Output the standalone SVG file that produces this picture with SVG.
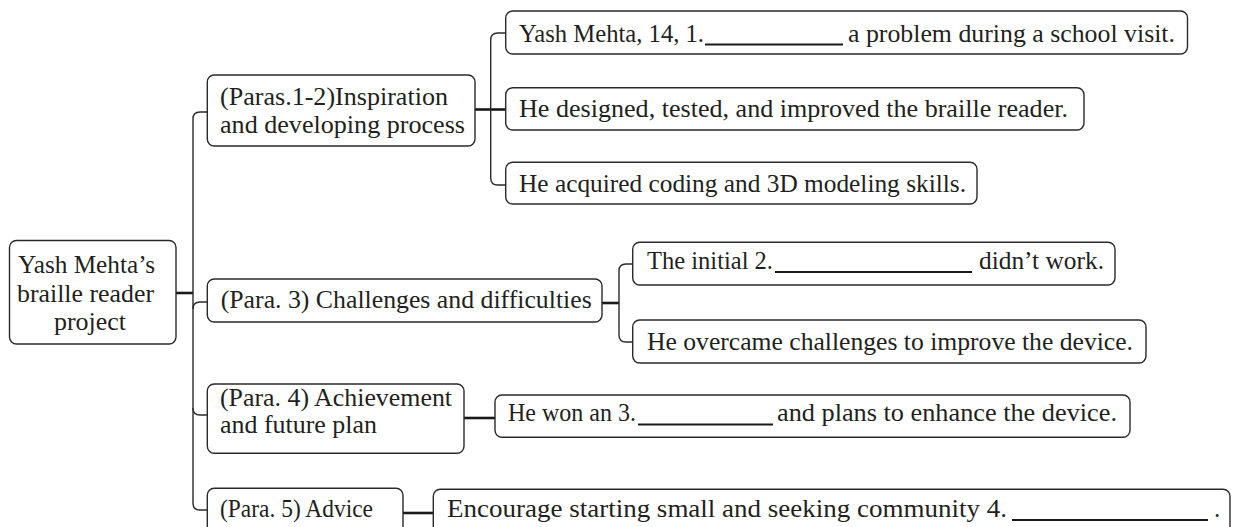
<svg xmlns="http://www.w3.org/2000/svg" width="1233" height="527" viewBox="0 0 1233 527">
<style>
.box{fill:#fff;stroke:#2a2a2a;stroke-width:1.4}
.t{font-family:"Liberation Serif","Times New Roman",serif;font-size:25px;fill:#231f20}
.thin{fill:none;stroke:#2a2a2a;stroke-width:1.4}
.thick{fill:none;stroke:#1a1a1a;stroke-width:2.6}
.ul{stroke:#1a1a1a;stroke-width:2}
</style>
<rect width="1233" height="527" fill="#fff"/>
<g id="connectors">
<path class="thick" d="M176,293H193"/>
<path class="thin" d="M207,112H200Q193,112 193,119V503Q193,510 200,510H207"/>
<path class="thin" d="M193,309Q193,302 200,302H207"/>
<path class="thin" d="M193,408Q193,415 200,415H207"/>
<path class="thick" d="M475,109.5H505.7"/>
<path class="thin" d="M505.7,33H497.7Q490.7,33 490.7,40V178Q490.7,185 497.7,185H505.7"/>
<path class="thick" d="M602,303H619"/>
<path class="thin" d="M632.7,264H626Q619,264 619,271V335Q619,342 626,342H632.7"/>
<path class="thick" d="M464,418H495"/>
<path class="thick" d="M403,513H433"/>
</g>
<g id="root">
<rect class="box" x="9.5" y="240.5" width="166.5" height="103.5" rx="7"/>
<text class="t" x="18" y="273" textLength="137" lengthAdjust="spacingAndGlyphs">Yash Mehta’s</text>
<text class="t" x="17" y="302" textLength="137" lengthAdjust="spacingAndGlyphs">braille reader</text>
<text class="t" x="54" y="330" textLength="72" lengthAdjust="spacingAndGlyphs">project</text>
</g>
<g id="para12">
<rect class="box" x="207.3" y="75" width="267.7" height="71" rx="7"/>
<text class="t" x="220" y="104.5" textLength="228" lengthAdjust="spacingAndGlyphs">(Paras.1-2)Inspiration</text>
<text class="t" x="220" y="133" textLength="245" lengthAdjust="spacingAndGlyphs">and developing process</text>
</g>
<g id="n1">
<rect class="box" x="505.7" y="11" width="681.8" height="43" rx="7"/>
<text class="t" x="519" y="42" textLength="185" lengthAdjust="spacingAndGlyphs">Yash Mehta, 14, 1.</text>
<line class="ul" x1="705" y1="44.5" x2="843" y2="44.5"/>
<text class="t" x="848" y="42" textLength="327" lengthAdjust="spacingAndGlyphs">a problem during a school visit.</text>
</g>
<g id="n2">
<rect class="box" x="505.7" y="87.7" width="578.3" height="42.3" rx="7"/>
<text class="t" x="519" y="117" textLength="549" lengthAdjust="spacingAndGlyphs">He designed, tested, and improved the braille reader.</text>
</g>
<g id="n3">
<rect class="box" x="505.7" y="162.3" width="471.3" height="41.7" rx="7"/>
<text class="t" x="519" y="191.5" textLength="447" lengthAdjust="spacingAndGlyphs">He acquired coding and 3D modeling skills.</text>
</g>
<g id="para3">
<rect class="box" x="207.3" y="279" width="394.7" height="43" rx="7"/>
<text class="t" x="220.7" y="308.3" textLength="371" lengthAdjust="spacingAndGlyphs">(Para. 3) Challenges and difficulties</text>
</g>
<g id="n4">
<rect class="box" x="632.7" y="242.3" width="482.3" height="42.7" rx="7"/>
<text class="t" x="647" y="268.5" textLength="126" lengthAdjust="spacingAndGlyphs">The initial 2.</text>
<line class="ul" x1="775" y1="272" x2="972" y2="272"/>
<text class="t" x="979" y="268.5" textLength="125" lengthAdjust="spacingAndGlyphs">didn’t work.</text>
</g>
<g id="n5">
<rect class="box" x="632.7" y="320" width="513.3" height="43" rx="7"/>
<text class="t" x="647" y="350" textLength="486" lengthAdjust="spacingAndGlyphs">He overcame challenges to improve the device.</text>
</g>
<g id="para4">
<rect class="box" x="207.3" y="384" width="256.7" height="69.3" rx="7"/>
<text class="t" x="220" y="405.5" textLength="232" lengthAdjust="spacingAndGlyphs">(Para. 4) Achievement</text>
<text class="t" x="220" y="433" textLength="157" lengthAdjust="spacingAndGlyphs">and future plan</text>
</g>
<g id="n6">
<rect class="box" x="495" y="395" width="635" height="42.3" rx="7"/>
<text class="t" x="508" y="421" textLength="128" lengthAdjust="spacingAndGlyphs">He won an 3.</text>
<line class="ul" x1="638" y1="424.5" x2="773" y2="424.5"/>
<text class="t" x="777" y="421" textLength="340" lengthAdjust="spacingAndGlyphs">and plans to enhance the device.</text>
</g>
<g id="para5">
<rect class="box" x="207.3" y="488.3" width="195.7" height="60" rx="7"/>
<text class="t" x="220" y="517" textLength="153" lengthAdjust="spacingAndGlyphs">(Para. 5) Advice</text>
</g>
<g id="n7">
<rect class="box" x="433.3" y="489.3" width="796.7" height="60" rx="7"/>
<text class="t" x="447" y="516.5" textLength="560" lengthAdjust="spacingAndGlyphs">Encourage starting small and seeking community 4.</text>
<line class="ul" x1="1012" y1="520" x2="1208" y2="520"/>
<text class="t" x="1214" y="516.5">.</text>
</g>
</svg>
